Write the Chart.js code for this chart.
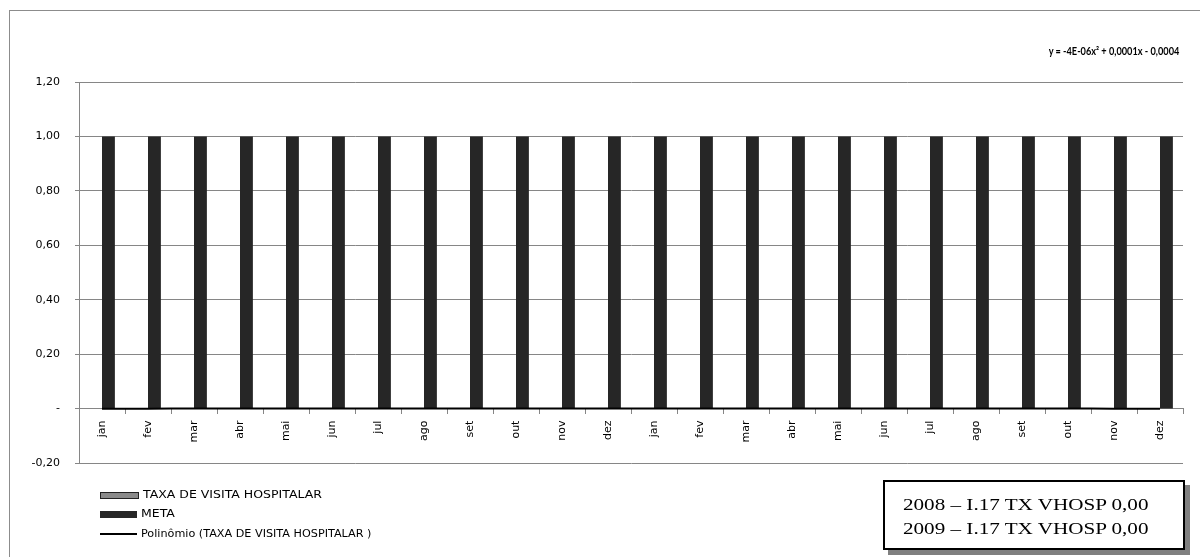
<!DOCTYPE html>
<html>
<head>
<meta charset="utf-8">
<script src="https://cdn.jsdelivr.net/npm/chart.js@4"></script>
<style>
  html, body { margin: 0; padding: 0; background: #fff; overflow: hidden; }
  #wrap { position: relative; width: 1200px; height: 557px; overflow: hidden; font-family: "DejaVu Sans", sans-serif; }
  #frame { position: absolute; left: 9px; top: 10px; width: 1300px; height: 700px; border: 1px solid #8c8c8c; }
  canvas { position: absolute; left: 0; top: 0; }
  #eq { position: absolute; right: 21px; top: 44px; font-family: Lato, sans-serif; font-size: 11.5px; font-weight: 700;
        color: #000; white-space: nowrap; transform: scaleX(0.8); transform-origin: right center; }
  .leg { position: absolute; left: 100px; font-size: 10px; color: #000; height: 14px; line-height: 14px; white-space: nowrap; }
  .leg i { display: inline-block; width: 37px; vertical-align: middle; margin-right: 4px; }
  .leg span { display: inline-block; transform: scaleX(1.25); transform-origin: left center; }
  .leg span.narrow { transform: scaleX(1.12); }
  #box { position: absolute; left: 883px; top: 480px; width: 302px; height: 70px; border: 2px solid #000;
         background: #fff; box-shadow: 5px 5px 0 #808080; box-sizing: border-box; }
  #box span { position: absolute; left: 18px; top: 11px; font-family: "Liberation Serif", "Times New Roman", serif;
              font-size: 16px; line-height: 24px; white-space: nowrap; transform: scaleX(1.32); transform-origin: left top; }
</style>
</head>
<body>
<div id="wrap">
  <div id="frame"></div>
  <canvas id="chart" width="1200" height="557"></canvas>
  <div id="eq">y = -4E-06x² + 0,0001x - 0,0004</div>
  <div class="leg" style="top:488px"><i style="height:5px;background:#8a8a8a;border:1px solid #222;"></i><span>TAXA DE VISITA HOSPITALAR</span></div>
  <div class="leg" style="top:507px"><i style="height:7px;background:#262626;"></i><span>META</span></div>
  <div class="leg" style="top:527px"><i style="height:2px;background:#000;"></i><span class="narrow">Polinômio (TAXA DE VISITA HOSPITALAR )</span></div>
  <div id="box"><span>2008 – I.17 TX VHOSP 0,00<br>2009 – I.17 TX VHOSP 0,00</span></div>
</div>
<script>
const months = ["jan", "fev", "mar", "abr", "mai", "jun", "jul", "ago", "set", "out", "nov", "dez",
                "jan", "fev", "mar", "abr", "mai", "jun", "jul", "ago", "set", "out", "nov", "dez"];
const taxaValues = [0, 0, 0, 0, 0, 0, 0, 0, 0, 0, 0, 0, 0, 0, 0, 0, 0, 0, 0, 0, 0, 0, 0, 0];
const metaValues = [1, 1, 1, 1, 1, 1, 1, 1, 1, 1, 1, 1, 1, 1, 1, 1, 1, 1, 1, 1, 1, 1, 1, 1];
// trend line (polinomial), stays at ~0
const trendValues = [-0.0003, -0.0002, -0.0001, -0.0001, 0, 0, 0.0001, 0.0001, 0.0002, 0.0002, 0.0002, 0.0002,
                     0.0002, 0.0002, 0.0002, 0.0001, 0.0001, 0.0001, 0, 0, -0.0001, -0.0001, -0.0002, -0.0003];
const yMin = -0.2, yMax = 1.2, yStep = 0.2;

const gridGrey = "#868686";
const fontFam = "'DejaVu Sans', sans-serif";

function fmt(v) {
    if (Math.abs(v) < 1e-9) return "-";
    return v.toFixed(2).replace(".", ",");
}

new Chart(document.getElementById("chart"), {
    data: {
        labels: months,
        datasets: [
            { type: "line", label: "Polinômio (TAXA DE VISITA HOSPITALAR )", data: trendValues,
              borderColor: "#000", borderWidth: 2, pointRadius: 0, tension: 0.4, order: 0 },
            { type: "bar", label: "TAXA DE VISITA HOSPITALAR", data: taxaValues,
              backgroundColor: "#8a8a8a", order: 1 },
            { type: "bar", label: "META", data: metaValues,
              backgroundColor: "#262626", order: 1 }
        ]
    },
    options: {
        responsive: false,
        animation: false,
        layout: { padding: { left: 0, top: 82, right: 17, bottom: 94 } },
        datasets: { bar: { categoryPercentage: 0.56, barPercentage: 1.0 } },
        plugins: { legend: { display: false }, tooltip: { enabled: false } },
        scales: {
            x: {
                position: { y: 0 },
                offset: true,
                grid: { offset: true, drawOnChartArea: false, drawTicks: true, tickLength: 5, color: gridGrey },
                border: { color: gridGrey },
                ticks: { minRotation: 90, maxRotation: 90, padding: 7, color: "#000",
                         font: { family: fontFam, size: 11 } }
            },
            y: {
                min: yMin, max: yMax,
                afterFit: (s) => { s.width = 79; },
                grid: { color: gridGrey, tickLength: 4 },
                border: { color: gridGrey },
                ticks: { stepSize: yStep, padding: 15, color: "#000", callback: (v) => fmt(v),
                         font: { family: fontFam, size: 11 } }
            }
        }
    }
});
</script>
</body>
</html>
